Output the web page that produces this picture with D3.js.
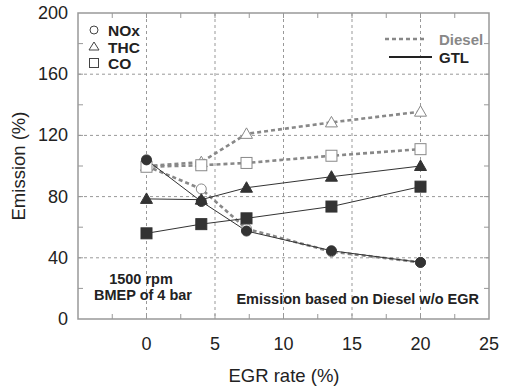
<!DOCTYPE html>
<html><head><meta charset="utf-8">
<script src="https://cdn.jsdelivr.net/npm/d3@7"></script>
<style>body{margin:0;background:#fff}svg{display:block}text{font-family:"Liberation Sans",Arial,sans-serif}</style>
</head><body><svg id="c" width="506" height="386"></svg>
<script>
const egr = [0, 4, 7.3, 13.5, 20];
const dieselNOx = [100, 85, 59, 44, 37];
const dieselTHC = [100, 102.5, 121, 128.5, 135.5];
const dieselCO = [99.5, 100.5, 102, 106.7, 111];
const gtlNOx = [104, 76.8, 57.5, 44.6, 37];
const gtlTHC = [78.5, 78, 85.8, 93, 100];
const gtlCO = [56, 62, 65.8, 73.5, 86.5];
const xTicks = [0, 5, 10, 15, 20, 25];
const yTicks = [0, 40, 80, 120, 160, 200];

const svg = d3.select("#c");
const L = 78, R = 489, T = 13, B = 319;
const x = d3.scaleLinear().domain([-5, 25]).range([L, R]);
const y = d3.scaleLinear().domain([0, 200]).range([B, T]);
const tc = "#222";

// grid
const g = svg.append("g");
g.selectAll(".vg").data([0,5,10,15,20]).enter().append("line")
 .attr("x1", d=>x(d)).attr("x2", d=>x(d)).attr("y1", T).attr("y2", B)
 .attr("stroke", "#999").attr("stroke-width", 1).attr("stroke-dasharray", "3,3");
g.selectAll(".hg").data([40,80,120,160]).enter().append("line")
 .attr("y1", d=>y(d)).attr("y2", d=>y(d)).attr("x1", L).attr("x2", R)
 .attr("stroke", "#999").attr("stroke-width", 1).attr("stroke-dasharray", "3,3");

// frame
svg.append("rect").attr("x", L).attr("y", T).attr("width", R-L).attr("height", B-T)
 .attr("fill", "none").attr("stroke", "#999").attr("stroke-width", 1.5);

// minor inward ticks
const xt = d3.range(-5, 25.01, 2.5).slice(1, -1);
svg.selectAll(".xtb").data(xt).enter().append("line")
 .attr("x1", d=>x(d)).attr("x2", d=>x(d)).attr("y1", B).attr("y2", B-5).attr("stroke", "#999");
svg.selectAll(".xtt").data(xt).enter().append("line")
 .attr("x1", d=>x(d)).attr("x2", d=>x(d)).attr("y1", T).attr("y2", T+5).attr("stroke", "#999");
const yt = d3.range(20, 200, 20);
svg.selectAll(".ytl").data(yt).enter().append("line")
 .attr("y1", d=>y(d)).attr("y2", d=>y(d)).attr("x1", L).attr("x2", L+5).attr("stroke", "#999");
svg.selectAll(".ytr").data(yt).enter().append("line")
 .attr("y1", d=>y(d)).attr("y2", d=>y(d)).attr("x1", R).attr("x2", R-5).attr("stroke", "#999");

// tick labels
svg.selectAll(".xl").data(xTicks).enter().append("text")
 .attr("x", d=>x(d)).attr("y", 350).attr("text-anchor", "middle")
 .attr("font-size", 18).attr("fill", tc).text(d=>d);
svg.selectAll(".yl").data(yTicks).enter().append("text")
 .attr("x", 68).attr("y", d=>y(d)+6).attr("text-anchor", "end")
 .attr("font-size", 18).attr("fill", tc).text(d=>d);

// axis titles
svg.append("text").attr("x", 284).attr("y", 382).attr("text-anchor", "middle")
 .attr("font-size", 18.5).attr("fill", tc).text("EGR rate (%)");
svg.append("text").attr("transform", "translate(25,166) rotate(-90)").attr("text-anchor", "middle")
 .attr("font-size", 18.5).attr("fill", tc).text("Emission (%)");

// series
const line = d3.line().x((d,i)=>x(egr[i])).y(d=>y(d));
const dieselCol = "#888", gtlCol = "#333";
[dieselNOx, dieselTHC, dieselCO].forEach(s=>{
 svg.append("path").datum(s).attr("d", line).attr("fill", "none")
  .attr("stroke", dieselCol).attr("stroke-width", 2.6).attr("stroke-dasharray", "4,3");
});
[gtlNOx, gtlTHC, gtlCO].forEach(s=>{
 svg.append("path").datum(s).attr("d", line).attr("fill", "none")
  .attr("stroke", gtlCol).attr("stroke-width", 1);
});

function marker(sel, type, cx, cy, filled) {
 const fill = filled ? "#333" : "#fff";
 const stroke = filled ? "#333" : "#888";
 if (type === "circle") {
  sel.append("circle").attr("cx", cx).attr("cy", cy).attr("r", 5)
   .attr("fill", fill).attr("stroke", stroke).attr("stroke-width", 1);
 } else if (type === "tri") {
  const s = 6;
  sel.append("path").attr("d", `M${cx},${cy-s}L${cx+s},${cy+s*0.75}L${cx-s},${cy+s*0.75}Z`)
   .attr("fill", fill).attr("stroke", stroke).attr("stroke-width", 1);
 } else {
  sel.append("rect").attr("x", cx-5.5).attr("y", cy-5.5).attr("width", 11).attr("height", 11)
   .attr("fill", fill).attr("stroke", stroke).attr("stroke-width", 1);
 }
}
const mk = svg.append("g");
[[dieselNOx,"circle"],[dieselTHC,"tri"],[dieselCO,"sq"]].forEach(([s,t])=>{
 s.forEach((v,i)=>marker(mk, t, x(egr[i]), y(v), false));
});
[[gtlNOx,"circle"],[gtlTHC,"tri"],[gtlCO,"sq"]].forEach(([s,t])=>{
 s.forEach((v,i)=>marker(mk, t, x(egr[i]), y(v), true));
});

// symbol legend
const lg = svg.append("g");
const legItems = [["circle","NOx",30],["tri","THC",47],["sq","CO",63]];
legItems.forEach(([t,l,yy])=>{
 if (t==="circle") lg.append("circle").attr("cx",94).attr("cy",yy).attr("r",4).attr("fill","none").attr("stroke","#444");
 else if (t==="tri") lg.append("path").attr("d",`M94,${yy-5}L99,${yy+3}L89,${yy+3}Z`).attr("fill","none").attr("stroke","#444");
 else lg.append("rect").attr("x",89.5).attr("y",yy-4.5).attr("width",9).attr("height",9).attr("fill","none").attr("stroke","#444");
 lg.append("text").attr("x",108).attr("y",yy+5.5).attr("font-size",15.5).attr("font-weight","bold").attr("fill","#222").text(l);
});

// line legend
svg.append("line").attr("x1",385).attr("x2",425).attr("y1",39).attr("y2",39)
 .attr("stroke",dieselCol).attr("stroke-width",2.6).attr("stroke-dasharray","4,3");
svg.append("text").attr("x",439).attr("y",45).attr("font-size",15).attr("font-weight","bold").attr("fill","#888").text("Diesel");
svg.append("line").attr("x1",389).attr("x2",432).attr("y1",57).attr("y2",57)
 .attr("stroke","#222").attr("stroke-width",2);
svg.append("text").attr("x",439).attr("y",63).attr("font-size",15).attr("font-weight","bold").attr("fill","#222").text("GTL");

// annotations
svg.append("text").attr("x",141).attr("y",284).attr("text-anchor","middle").attr("font-size",14.5).attr("font-weight","bold").attr("fill","#222").text("1500 rpm");
svg.append("text").attr("x",143).attr("y",300).attr("text-anchor","middle").attr("font-size",14.5).attr("font-weight","bold").attr("fill","#222").text("BMEP of 4 bar");
svg.append("text").attr("x",479).attr("y",304).attr("text-anchor","end").attr("font-size",14.5).attr("font-weight","bold").attr("fill","#222").text("Emission based on Diesel w/o EGR");
</script></body></html>
